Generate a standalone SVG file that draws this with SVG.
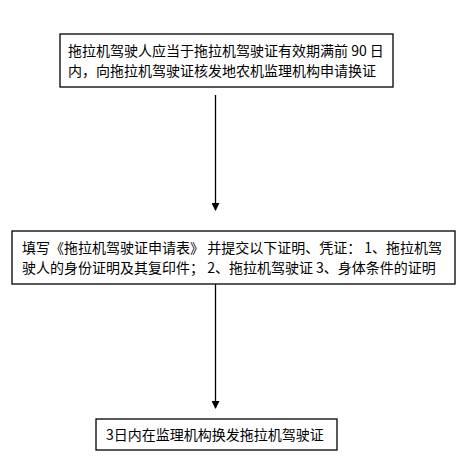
<svg xmlns="http://www.w3.org/2000/svg" width="468" height="467" viewBox="0 0 468 467">
<style>
.box{fill:#fff;stroke:#000;stroke-width:1.3}
.t{font-family:"Noto Sans CJK SC","Noto Sans",sans-serif;font-size:14px;fill:#000}
.c{stroke:#000;stroke-width:1.3;fill:none}
</style>
<defs>
<marker id="ah" markerWidth="8" markerHeight="8" refX="7" refY="4" orient="auto" markerUnits="userSpaceOnUse">
<path d="M0,0 L8,4 L0,8 Z" fill="#000"/>
</marker>
</defs>
<rect width="468" height="467" fill="#fff"/>
<g id="connectors">
<line class="c" x1="215.5" y1="95" x2="215.5" y2="210" marker-end="url(#ah)"/>
<line class="c" x1="215.5" y1="284" x2="215.5" y2="408" marker-end="url(#ah)"/>
</g>
<g id="node1">
<rect class="box" x="60" y="34" width="333" height="53"/>
<text class="t" x="68" y="56">拖拉机驾驶人应当于拖拉机驾驶证有效期满前 90 日</text>
<text class="t" x="68" y="76">内，向拖拉机驾驶证核发地农机监理机构申请换证</text>
</g>
<g id="node2">
<rect class="box" x="12" y="231" width="443" height="53"/>
<text class="t" x="22" y="253">填写《拖拉机驾驶证申请表》 并提交以下证明、凭证： 1、拖拉机驾</text>
<text class="t" x="22" y="273">驶人的身份证明及其复印件； 2、拖拉机驾驶证 3、身体条件的证明</text>
</g>
<g id="node3">
<rect class="box" x="96" y="419" width="241" height="31"/>
<text class="t" x="106" y="440">3日内在监理机构换发拖拉机驾驶证</text>
</g>
</svg>
